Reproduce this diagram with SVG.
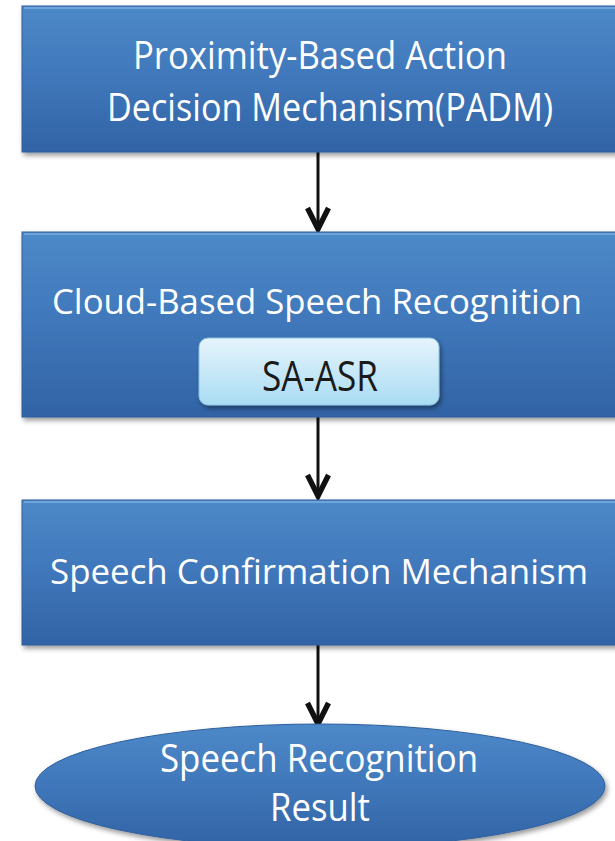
<svg xmlns="http://www.w3.org/2000/svg" width="615" height="841" viewBox="0 0 615 841">
<defs>
<linearGradient id="blue" x1="0" y1="0" x2="0" y2="1">
<stop offset="0" stop-color="#4d89c9"/>
<stop offset="0.5" stop-color="#3f77ba"/>
<stop offset="1" stop-color="#3163a5"/>
</linearGradient>
<linearGradient id="light" x1="0" y1="0" x2="0" y2="1">
<stop offset="0" stop-color="#e6f4fc"/>
<stop offset="1" stop-color="#a9dcf3"/>
</linearGradient>
<filter id="sh" x="-5%" y="-5%" width="115%" height="120%">
<feDropShadow dx="2" dy="3" stdDeviation="2.5" flood-color="#000" flood-opacity="0.4"/>
</filter>
<marker id="arr" markerWidth="10" markerHeight="10" refX="8" refY="5" orient="auto" markerUnits="strokeWidth">
<path d="M1,1.5 L8,5 L1,8.5" fill="none" stroke="#111" stroke-width="1.8"/>
</marker>
</defs>
<style>
.box{fill:url(#blue);stroke:#2f5f9c;stroke-width:1;filter:url(#sh)}
.hl{fill:none;stroke:#7fb0e0;stroke-width:2;opacity:0.7}
.t{font-family:"Open Sans","Liberation Sans",sans-serif;font-size:38px;fill:#ffffff;text-anchor:middle}
.w{font-size:35px}
.d{font-family:"Open Sans","Liberation Sans",sans-serif;font-size:42px;fill:#1a1a1a;text-anchor:middle}
.c{stroke:#111;stroke-width:3;fill:none;marker-end:url(#arr)}
</style>
<rect width="615" height="841" fill="#ffffff"/>
<g id="connectors">
<line class="c" x1="318" y1="152" x2="318" y2="229"/>
<line class="c" x1="318" y1="417" x2="318" y2="496"/>
<line class="c" x1="318" y1="645" x2="318" y2="724"/>
</g>
<g id="padm">
<rect class="box" x="22" y="6" width="600" height="146"/>
<line class="hl" x1="24" y1="8" x2="615" y2="8"/>
<text class="t" x="320" y="69" textLength="374" lengthAdjust="spacingAndGlyphs">Proximity-Based Action</text>
<text class="t" x="330" y="121" textLength="446" lengthAdjust="spacingAndGlyphs">Decision Mechanism(PADM)</text>
</g>
<g id="cloud">
<rect class="box" x="22" y="232" width="600" height="185"/>
<line class="hl" x1="24" y1="234" x2="615" y2="234"/>
<text class="t w" x="317" y="314" textLength="530" lengthAdjust="spacingAndGlyphs">Cloud-Based Speech Recognition</text>
<g id="saasr">
<rect x="199" y="338" width="240" height="67" rx="9" fill="url(#light)" stroke="#8cc3de" stroke-width="1" filter="url(#sh)"/>
<text class="d" x="320" y="391" textLength="116" lengthAdjust="spacingAndGlyphs">SA-ASR</text>
</g>
</g>
<g id="confirm">
<rect class="box" x="22" y="500" width="600" height="145"/>
<line class="hl" x1="24" y1="502" x2="615" y2="502"/>
<text class="t w" x="319" y="584" textLength="538" lengthAdjust="spacingAndGlyphs">Speech Confirmation Mechanism</text>
</g>
<g id="result">
<ellipse class="box" cx="320" cy="786" rx="285" ry="62"/>
<text class="t" x="319" y="772" textLength="318" lengthAdjust="spacingAndGlyphs">Speech Recognition</text>
<text class="t" x="320" y="821" textLength="100" lengthAdjust="spacingAndGlyphs">Result</text>
</g>
</svg>
